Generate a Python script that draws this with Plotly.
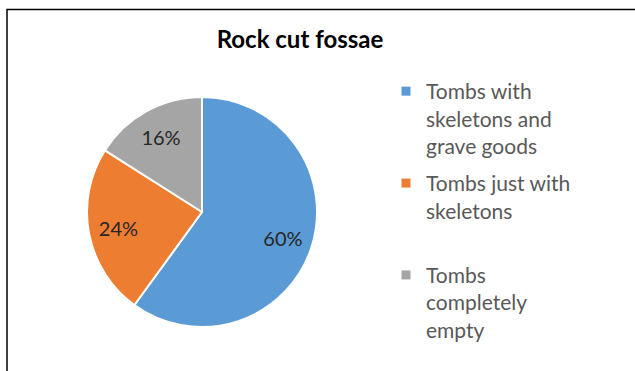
import plotly.graph_objects as go

labels = ["Tombs with<br>skeletons and<br>grave goods",
          "Tombs just with<br>skeletons<br> ",
          "Tombs<br>completely<br>empty"]
values = [60, 24, 16]
colors = ["#5B9BD5", "#ED7D31", "#A5A5A5"]

W, H = 635, 371
pie_domain = dict(x=[87 / W, 317 / W], y=[(H - 327) / H, (H - 97) / H])

fig = go.Figure()

# main pie (no text)
fig.add_trace(go.Pie(
    labels=labels, values=values, sort=False,
    direction="clockwise", rotation=0,
    marker=dict(colors=colors, line=dict(color="white", width=2)),
    textinfo="none",
    domain=pie_domain, showlegend=False,
    hoverinfo="label+percent",
))

# transparent ring carrying the percentage labels
fig.add_trace(go.Pie(
    labels=labels, values=values, sort=False,
    direction="clockwise", rotation=0, hole=0.48,
    marker=dict(colors=["rgba(0,0,0,0)"] * len(values), line=dict(width=0)),
    texttemplate="%{percent:.0%}",
    textposition="inside",
    insidetextorientation="horizontal",
    textfont=dict(family="Lato", size=20, color="#262626"),
    domain=pie_domain, showlegend=False,
    hoverinfo="skip",
))

# legend entries
for lab, col in zip(labels, colors):
    fig.add_trace(go.Scatter(
        x=[None], y=[None], mode="markers", name=lab, legendgroup=lab,
        marker=dict(symbol="square", size=9, color=col),
        showlegend=True, hoverinfo="skip",
    ))

fig.update_layout(
    width=W, height=H,
    margin=dict(l=0, r=0, t=0, b=0),
    paper_bgcolor="white",
    plot_bgcolor="rgba(0,0,0,0)",
    xaxis=dict(visible=False),
    yaxis=dict(visible=False),
    title=dict(text="<b>Rock cut fossae</b>", x=300 / W, xanchor="center",
               y=(H - 40) / H, yanchor="middle",
               font=dict(family="Lato", size=24, color="black")),
    legend=dict(x=386 / W, xanchor="left", y=(H - 71) / H, yanchor="top",
                font=dict(family="Lato", size=21, color="#595959"),
                valign="top", traceorder="grouped", tracegroupgap=7,
                bgcolor="rgba(0,0,0,0)"),
    showlegend=True,
    shapes=[dict(type="rect", xref="paper", yref="paper",
                 x0=7 / W, x1=1.05, y0=-0.05, y1=(H - 9.5) / H,
                 line=dict(color="black", width=1.5), layer="below")],
)

fig.write_html("out.html")
